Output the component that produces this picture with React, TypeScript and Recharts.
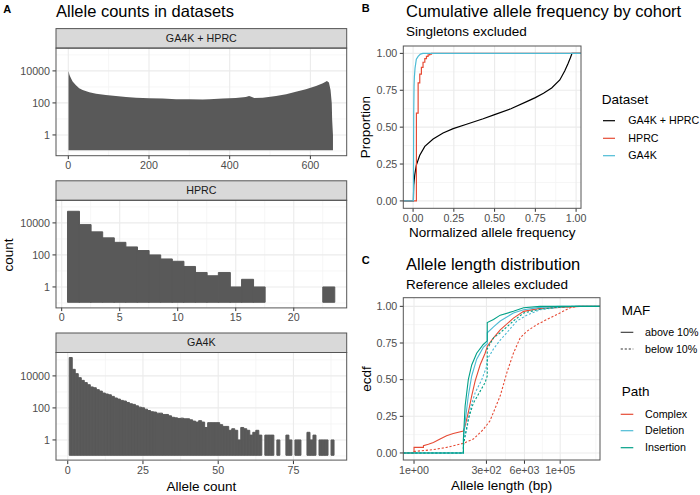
import React from 'react'
import {
  ComposedChart,
  Area,
  Bar,
  Line,
  XAxis,
  YAxis,
  CartesianGrid,
} from 'recharts'

const FONT = '"Liberation Sans", Arial, Helvetica, sans-serif'

// ---------- Panel A data: allele count histograms ----------
const combinedAC = [0.5, 3, 6.6, 10.7, 19, 27, 35.5, 52, 69, 93, 118, 143, 168, 201, 234, 267, 300, 333, 350, 383, 415, 440, 448, 452, 461, 482, 515, 540, 564, 589, 614, 631, 641, 646, 650, 653, 654, 656]
const combinedN = [10000, 5600, 3470, 2140, 1260, 830, 650, 470, 380, 316, 275, 237, 214, 195, 186, 170, 170, 162, 170, 186, 204, 237, 275, 250, 204, 214, 275, 347, 490, 710, 1150, 1700, 2370, 1860, 630, 95, 9, 1]

const hprcAC = [1, 2, 3, 4, 5, 6, 7, 8, 9, 10, 11, 12, 13, 14, 15, 16, 17, 23]
const hprcN = [53000, 7800, 2750, 1160, 610, 316, 188, 100, 56, 40, 19, 8, 5, 8, 1, 3, 1, 1]

const ga4kAC = [
  1, 2, 3, 4, 5, 6, 7, 8, 9, 10, 11, 12, 13, 14, 15, 16, 17, 18, 19, 20,
  21, 22, 23, 24, 25, 26, 27, 28, 29, 30, 31, 32, 33, 34, 35, 36, 37, 38, 39, 40,
  41, 42, 43, 44, 45, 46, 47, 48, 49, 50, 51, 52, 53, 54, 55, 56, 57, 58, 59, 60,
  61, 62, 63, 64, 66, 67, 68, 70, 73, 74, 76, 77, 80, 81, 82, 84, 85, 86, 88,
]
const ga4kN = [
  141000, 25700, 13800, 7760, 5250, 3800, 2820, 2040, 1820, 1380,
  1120, 850, 740, 660, 525, 417, 355, 295, 269, 219,
  182, 166, 135, 112, 102, 83, 69, 58, 55, 47,
  47, 39, 39, 32, 26, 24, 22, 23, 21, 21,
  18, 15, 13, 16, 13, 6, 12, 12, 12, 12,
  9, 7, 7, 4, 5, 4, 1, 6, 5, 4,
  2, 3, 4, 2, 2, 2, 2, 1, 2, 1, 1, 1, 3, 1, 2, 1, 1, 1, 1,
]

const COUNT_TICKS = [1, 100, 10000]
const COUNT_MINOR = [0.1, 10, 1000, 100000]
const COUNT_BASE = 0.11

// ---------- Panel B data: cumulative allele frequency ----------
const combinedFreq = [0.002, 0.003, 0.004, 0.01, 0.02, 0.041, 0.072, 0.123, 0.184, 0.246, 0.328, 0.43, 0.5, 0.6, 0.7, 0.75, 0.8, 0.85, 0.9, 0.93, 0.95, 0.965, 0.975]
const combinedProp = [0, 0.06, 0.107, 0.175, 0.243, 0.31, 0.37, 0.42, 0.46, 0.49, 0.52, 0.557, 0.585, 0.625, 0.675, 0.7, 0.73, 0.765, 0.82, 0.88, 0.93, 0.97, 1]
const hprcFreq = [0.0205, 0.031, 0.041, 0.051, 0.061, 0.072, 0.082, 0.092, 0.102, 0.113]
const hprcProp = [0.595, 0.8, 0.86, 0.905, 0.94, 0.965, 0.98, 0.99, 0.995, 1]
const ga4kFreq = [0.002, 0.003, 0.004, 0.006, 0.008, 0.012, 0.02, 0.031, 0.045, 0.06]
const ga4kProp = [0, 0.35, 0.6, 0.78, 0.84, 0.9, 0.96, 0.98, 0.995, 1]

const FREQ_TICKS = [0, 0.25, 0.5, 0.75, 1]
const FREQ_MINOR = [0.125, 0.375, 0.625, 0.875]

// ---------- Panel C data: allele length ecdf ----------
const complexAboveLen = [1, 1, 2.1, 2.1, 3.1, 4.6, 7.8, 13, 22, 49, 56, 72, 94, 123, 182, 270, 324, 524, 890, 2510, 5600, 20400, 98000, 480000]
const complexAboveF = [0, 0.038, 0.038, 0.05, 0.06, 0.072, 0.095, 0.118, 0.133, 0.15, 0.185, 0.276, 0.39, 0.49, 0.6, 0.68, 0.73, 0.785, 0.84, 0.92, 0.966, 0.986, 0.993, 1]
const complexBelowLen = [1, 1, 4.6, 13, 49, 107, 234, 398, 890, 1510, 2510, 4270, 7240, 15800, 34700, 98000, 219000, 372000]
const complexBelowF = [0, 0.01, 0.023, 0.038, 0.066, 0.095, 0.16, 0.22, 0.39, 0.55, 0.68, 0.785, 0.83, 0.875, 0.91, 0.955, 0.99, 1]
const deletionAboveLen = [49, 49, 56, 72, 94, 139, 234, 320, 320, 524, 890, 2510, 5600, 20400, 98000]
const deletionAboveF = [0, 0.095, 0.21, 0.39, 0.525, 0.64, 0.72, 0.745, 0.82, 0.86, 0.9, 0.955, 0.977, 0.993, 1]
const deletionBelowLen = [49, 49, 64, 83, 123, 207, 293, 324, 524, 890, 1490, 3300, 7200, 20400, 98000, 300000]
const deletionBelowF = [0, 0.07, 0.16, 0.3, 0.41, 0.5, 0.58, 0.64, 0.71, 0.77, 0.82, 0.9, 0.94, 0.977, 0.995, 1]
const insertionAboveLen = [49, 49, 56, 72, 94, 139, 234, 320, 320, 524, 890, 2510, 5600, 20400]
const insertionAboveF = [0, 0.1, 0.32, 0.5, 0.6, 0.68, 0.74, 0.765, 0.89, 0.91, 0.94, 0.966, 0.99, 1]
const insertionBelowLen = [49, 49, 56, 72, 107, 182, 270, 320, 320, 524, 890, 2510, 5600, 20400, 98000, 280000]
const insertionBelowF = [0, 0.05, 0.12, 0.23, 0.34, 0.42, 0.48, 0.525, 0.71, 0.785, 0.82, 0.9, 0.955, 0.98, 0.995, 1]

const LEN_TICKS = [1, 300, 6000, 100000]
const LEN_MINOR = [17.3, 1342, 24500, 1660000]
const PROP_TICKS = [0, 0.25, 0.5, 0.75, 1]
const PROP_MINOR = [0.125, 0.375, 0.625, 0.875]

// ---------- look ----------
const HIST_FILL = '#595959'
const TICK_TEXT = '#4D4D4D'
const TICK_LINE = '#333333'
const GRID_MAJOR = '#EBEBEB'
const GRID_MINOR = '#F4F4F4'
const BORDER = '#555555'
const RED = '#E64B35'
const BLUE = '#4DBBD5'
const GREEN = '#00A087'

const tickStyle = { fontSize: 10.7, fill: TICK_TEXT }

// facet geometry (panel A)
const A_LEFT = 56
const A_RIGHT = 346.7
const A_PANEL_H = 107.6
const A_TOPS = [48.1, 200.3, 352.5]
const STRIP_H = 19.5
const COUNT_DOMAIN = [0.0513, 269000]

// panel B / C geometry
const R_CHART_LEFT = 350
const R_YAXIS_W = 53.3
const B_TOP = 46
const C_TOP = 297.7
const R_PANEL_H = 162.3
const B_PLOT_W = 177.7
const C_PLOT_W = 196.7

const FREQ_LO = -0.06
const FREQ_HI = 1.03
const LEN_LO = 0.43
const LEN_HI = 2300000

type Pt = { x: number; y: number }

function ecdf(xs: number[], ys: number[], lo: number, hi: number): Pt[] {
  return [{ x: lo, y: 0 }, ...xs.map((x, i) => ({ x, y: ys[i] })), { x: hi, y: 1 }]
}

const combinedHist = combinedAC.map((x, i) => ({ x, n: combinedN[i] }))
const hprcHist = hprcAC.map((x, i) => ({ x, n: hprcN[i] }))
const ga4kHist = ga4kAC.map((x, i) => ({ x, n: ga4kN[i] }))

const bCombined = ecdf(combinedFreq, combinedProp, FREQ_LO, FREQ_HI)
const bHprc = ecdf(hprcFreq, hprcProp, FREQ_LO, FREQ_HI)
const bGa4k = ecdf(ga4kFreq, ga4kProp, FREQ_LO, FREQ_HI)

const cSeries = [
  { key: 'complex-above', pts: ecdf(complexAboveLen, complexAboveF, LEN_LO, LEN_HI), color: RED, dashed: false },
  { key: 'complex-below', pts: ecdf(complexBelowLen, complexBelowF, LEN_LO, LEN_HI), color: RED, dashed: true },
  { key: 'deletion-above', pts: ecdf(deletionAboveLen, deletionAboveF, LEN_LO, LEN_HI), color: BLUE, dashed: false },
  { key: 'deletion-below', pts: ecdf(deletionBelowLen, deletionBelowF, LEN_LO, LEN_HI), color: BLUE, dashed: true },
  { key: 'insertion-above', pts: ecdf(insertionAboveLen, insertionAboveF, LEN_LO, LEN_HI), color: GREEN, dashed: false },
  { key: 'insertion-below', pts: ecdf(insertionBelowLen, insertionBelowF, LEN_LO, LEN_HI), color: GREEN, dashed: true },
]

function sci(v: number) {
  const e = Math.floor(Math.log10(v) + 1e-9)
  const m = Math.round(v / Math.pow(10, e))
  return `${m}e${e < 0 ? '-' : '+'}${String(Math.abs(e)).padStart(2, '0')}`
}

interface FacetProps {
  top: number
  data: { x: number; n: number }[]
  xDomain: [number, number]
  xTicks: number[]
  xMinor: number[]
  mode: 'area' | 'bar'
}

function Facet({ top, data, xDomain, xTicks, xMinor, mode }: FacetProps) {
  return (
    <div style={{ position: 'absolute', left: 0, top }}>
      <ComposedChart
        width={A_RIGHT + 10}
        height={A_PANEL_H + 24}
        data={data}
        margin={{ top: 0, right: 10, bottom: 0, left: 0 }}
        barCategoryGap={0}
        barGap={0}
      >
        <CartesianGrid horizontalValues={COUNT_MINOR} verticalValues={xMinor} stroke={GRID_MINOR} strokeWidth={0.8} />
        <CartesianGrid horizontalValues={COUNT_TICKS} verticalValues={xTicks} stroke={GRID_MAJOR} strokeWidth={1.1} />
        <XAxis
          type="number"
          dataKey="x"
          domain={xDomain}
          ticks={xTicks}
          interval={0}
          allowDataOverflow
          height={24}
          axisLine={false}
          tickLine={{ stroke: TICK_LINE }}
          tickSize={3.5}
          tickMargin={2.5}
          tick={tickStyle}
        />
        <YAxis
          type="number"
          scale="log"
          domain={COUNT_DOMAIN}
          ticks={COUNT_TICKS}
          interval={0}
          allowDataOverflow
          width={A_LEFT}
          axisLine={false}
          tickLine={{ stroke: TICK_LINE }}
          tickSize={3.5}
          tickMargin={2.5}
          tick={tickStyle}
          tickFormatter={(v) => String(v)}
        />
        {mode === 'area' ? (
          <Area
            type="linear"
            dataKey={(d: { n: number }) => [COUNT_BASE, d.n]}
            fill={HIST_FILL}
            fillOpacity={1}
            stroke="none"
            isAnimationActive={false}
          />
        ) : (
          <Bar
            dataKey={(d: { n: number }) => [COUNT_BASE, d.n]}
            fill={HIST_FILL}
            stroke={HIST_FILL}
            strokeWidth={1}
            isAnimationActive={false}
          />
        )}
      </ComposedChart>
    </div>
  )
}

function FreqChart() {
  return (
    <div style={{ position: 'absolute', left: R_CHART_LEFT, top: B_TOP }}>
      <ComposedChart
        width={R_YAXIS_W + B_PLOT_W + 14}
        height={R_PANEL_H + 20}
        margin={{ top: 0, right: 14, bottom: 0, left: 0 }}
      >
        <CartesianGrid horizontalValues={PROP_MINOR} verticalValues={FREQ_MINOR} stroke={GRID_MINOR} strokeWidth={0.8} />
        <CartesianGrid horizontalValues={PROP_TICKS} verticalValues={FREQ_TICKS} stroke={GRID_MAJOR} strokeWidth={1.1} />
        <XAxis
          type="number"
          dataKey="x"
          domain={[FREQ_LO, FREQ_HI]}
          ticks={FREQ_TICKS}
          interval={0}
          allowDataOverflow
          height={20}
          axisLine={false}
          tickLine={{ stroke: TICK_LINE }}
          tickSize={3.5}
          tickMargin={2.5}
          tick={tickStyle}
          tickFormatter={(v) => v.toFixed(2)}
        />
        <YAxis
          type="number"
          domain={[-0.05, 1.05]}
          ticks={PROP_TICKS}
          interval={0}
          allowDataOverflow
          width={R_YAXIS_W}
          axisLine={false}
          tickLine={{ stroke: TICK_LINE }}
          tickSize={3.5}
          tickMargin={2.5}
          tick={tickStyle}
          tickFormatter={(v) => v.toFixed(2)}
        />
        <Line data={bCombined} dataKey="y" type="linear" stroke="#000000" strokeWidth={1.2} dot={false} isAnimationActive={false} />
        <Line data={bHprc} dataKey="y" type="stepAfter" stroke={RED} strokeWidth={1.2} dot={false} isAnimationActive={false} />
        <Line data={bGa4k} dataKey="y" type="linear" stroke={BLUE} strokeWidth={1.2} dot={false} isAnimationActive={false} />
      </ComposedChart>
    </div>
  )
}

function LengthChart() {
  return (
    <div style={{ position: 'absolute', left: R_CHART_LEFT, top: C_TOP }}>
      <ComposedChart
        width={R_YAXIS_W + C_PLOT_W + 14}
        height={R_PANEL_H + 20}
        margin={{ top: 0, right: 14, bottom: 0, left: 0 }}
      >
        <CartesianGrid horizontalValues={PROP_MINOR} verticalValues={LEN_MINOR} stroke={GRID_MINOR} strokeWidth={0.8} />
        <CartesianGrid horizontalValues={PROP_TICKS} verticalValues={LEN_TICKS} stroke={GRID_MAJOR} strokeWidth={1.1} />
        <XAxis
          type="number"
          dataKey="x"
          scale="log"
          domain={[LEN_LO, LEN_HI]}
          ticks={LEN_TICKS}
          interval={0}
          allowDataOverflow
          height={20}
          axisLine={false}
          tickLine={{ stroke: TICK_LINE }}
          tickSize={3.5}
          tickMargin={2.5}
          tick={tickStyle}
          tickFormatter={sci}
        />
        <YAxis
          type="number"
          domain={[-0.05, 1.057]}
          ticks={PROP_TICKS}
          interval={0}
          allowDataOverflow
          width={R_YAXIS_W}
          axisLine={false}
          tickLine={{ stroke: TICK_LINE }}
          tickSize={3.5}
          tickMargin={2.5}
          tick={tickStyle}
          tickFormatter={(v) => v.toFixed(2)}
        />
        {cSeries.map((s) => (
          <Line
            key={s.key}
            data={s.pts}
            dataKey="y"
            type="linear"
            stroke={s.color}
            strokeWidth={1.1}
            strokeDasharray={s.dashed ? '2.2 1.8' : undefined}
            dot={false}
            isAnimationActive={false}
          />
        ))}
      </ComposedChart>
    </div>
  )
}

const facetLabels = ['GA4K + HPRC', 'HPRC', 'GA4K']

function Overlay() {
  const rightL = R_CHART_LEFT + R_YAXIS_W
  return (
    <svg
      width={700}
      height={495}
      style={{ position: 'absolute', left: 0, top: 0, pointerEvents: 'none' }}
      fontFamily={FONT}
    >
      {/* tags and titles */}
      <text x={3.3} y={12.7} fontSize={11} fontWeight="bold">A</text>
      <text x={361.7} y={11.7} fontSize={11} fontWeight="bold">B</text>
      <text x={361.7} y={264.3} fontSize={11} fontWeight="bold">C</text>
      <text x={56} y={16.7} fontSize={16.5}>Allele counts in datasets</text>
      <text x={406} y={16.7} fontSize={16.5}>Cumulative allele frequency by cohort</text>
      <text x={406} y={36} fontSize={13.5}>Singletons excluded</text>
      <text x={406} y={269.5} fontSize={16.5}>Allele length distribution</text>
      <text x={406} y={289.3} fontSize={13.5}>Reference alleles excluded</text>

      {/* facet strips and borders */}
      {A_TOPS.map((t, i) => (
        <g key={i}>
          <rect x={A_LEFT} y={t - STRIP_H} width={A_RIGHT - A_LEFT} height={STRIP_H} fill="#D9D9D9" stroke={BORDER} strokeWidth={1} />
          <text x={(A_LEFT + A_RIGHT) / 2} y={t - STRIP_H / 2} dy="0.35em" textAnchor="middle" fontSize={10.7} fill="#1A1A1A">
            {facetLabels[i]}
          </text>
          <rect x={A_LEFT} y={t} width={A_RIGHT - A_LEFT} height={A_PANEL_H} fill="none" stroke={BORDER} strokeWidth={1} />
        </g>
      ))}
      <rect x={rightL} y={B_TOP} width={B_PLOT_W} height={R_PANEL_H} fill="none" stroke={BORDER} strokeWidth={1} />
      <rect x={rightL} y={C_TOP} width={C_PLOT_W} height={R_PANEL_H} fill="none" stroke={BORDER} strokeWidth={1} />

      {/* axis titles */}
      <text transform="translate(13.3,255) rotate(-90)" textAnchor="middle" fontSize={13.5}>count</text>
      <text x={201.3} y={490.7} textAnchor="middle" fontSize={13.5}>Allele count</text>
      <text transform="translate(370,127.2) rotate(-90)" textAnchor="middle" fontSize={13.5}>Proportion</text>
      <text x={492.2} y={236.7} textAnchor="middle" fontSize={13.5}>Normalized allele frequency</text>
      <text transform="translate(371,378.9) rotate(-90)" textAnchor="middle" fontSize={13.5}>ecdf</text>
      <text x={501.7} y={490} textAnchor="middle" fontSize={13.5}>Allele length (bp)</text>

      {/* legend B */}
      <text x={601.7} y={99.3} dy="0.35em" fontSize={13.5}>Dataset</text>
      {[
        { label: 'GA4K + HPRC', color: '#000000', y: 120.7 },
        { label: 'HPRC', color: RED, y: 138.3 },
        { label: 'GA4K', color: BLUE, y: 155.7 },
      ].map((it) => (
        <g key={it.label}>
          <line x1={603} x2={615} y1={it.y} y2={it.y} stroke={it.color} strokeWidth={1.2} />
          <text x={628.3} y={it.y} dy="0.35em" fontSize={10.7}>{it.label}</text>
        </g>
      ))}

      {/* legend C */}
      <text x={621.7} y={310.7} dy="0.35em" fontSize={13.5}>MAF</text>
      <line x1={620.7} x2={633.3} y1={332.3} y2={332.3} stroke="#333333" strokeWidth={1.1} />
      <text x={645} y={332.3} dy="0.35em" fontSize={10.7}>above 10%</text>
      <line x1={620.7} x2={633.3} y1={349} y2={349} stroke="#333333" strokeWidth={1.1} strokeDasharray="2.2 1.8" />
      <text x={645} y={349} dy="0.35em" fontSize={10.7}>below 10%</text>
      <text x={621.7} y={391} dy="0.35em" fontSize={13.5}>Path</text>
      {[
        { label: 'Complex', color: RED, y: 414.3 },
        { label: 'Deletion', color: BLUE, y: 430.7 },
        { label: 'Insertion', color: GREEN, y: 447.7 },
      ].map((it) => (
        <g key={it.label}>
          <line x1={620.7} x2={633.3} y1={it.y} y2={it.y} stroke={it.color} strokeWidth={1.2} />
          <text x={645} y={it.y} dy="0.35em" fontSize={10.7}>{it.label}</text>
        </g>
      ))}
    </svg>
  )
}

export default function App() {
  return (
    <div
      style={{
        position: 'absolute',
        left: 0,
        top: 0,
        width: 700,
        height: 495,
        background: '#ffffff',
        fontFamily: FONT,
        overflow: 'hidden',
      }}
    >
      <Facet top={A_TOPS[0]} data={combinedHist} xDomain={[-30.5, 690]} xTicks={[0, 200, 400, 600]} xMinor={[100, 300, 500]} mode="area" />
      <Facet top={A_TOPS[1]} data={hprcHist} xDomain={[-0.49, 24.56]} xTicks={[0, 5, 10, 15, 20]} xMinor={[2.5, 7.5, 12.5, 17.5, 22.5]} mode="bar" />
      <Facet top={A_TOPS[2]} data={ga4kHist} xDomain={[-3.9, 92.7]} xTicks={[0, 25, 50, 75]} xMinor={[12.5, 37.5, 62.5, 87.5]} mode="bar" />
      <FreqChart />
      <LengthChart />
      <Overlay />
    </div>
  )
}
